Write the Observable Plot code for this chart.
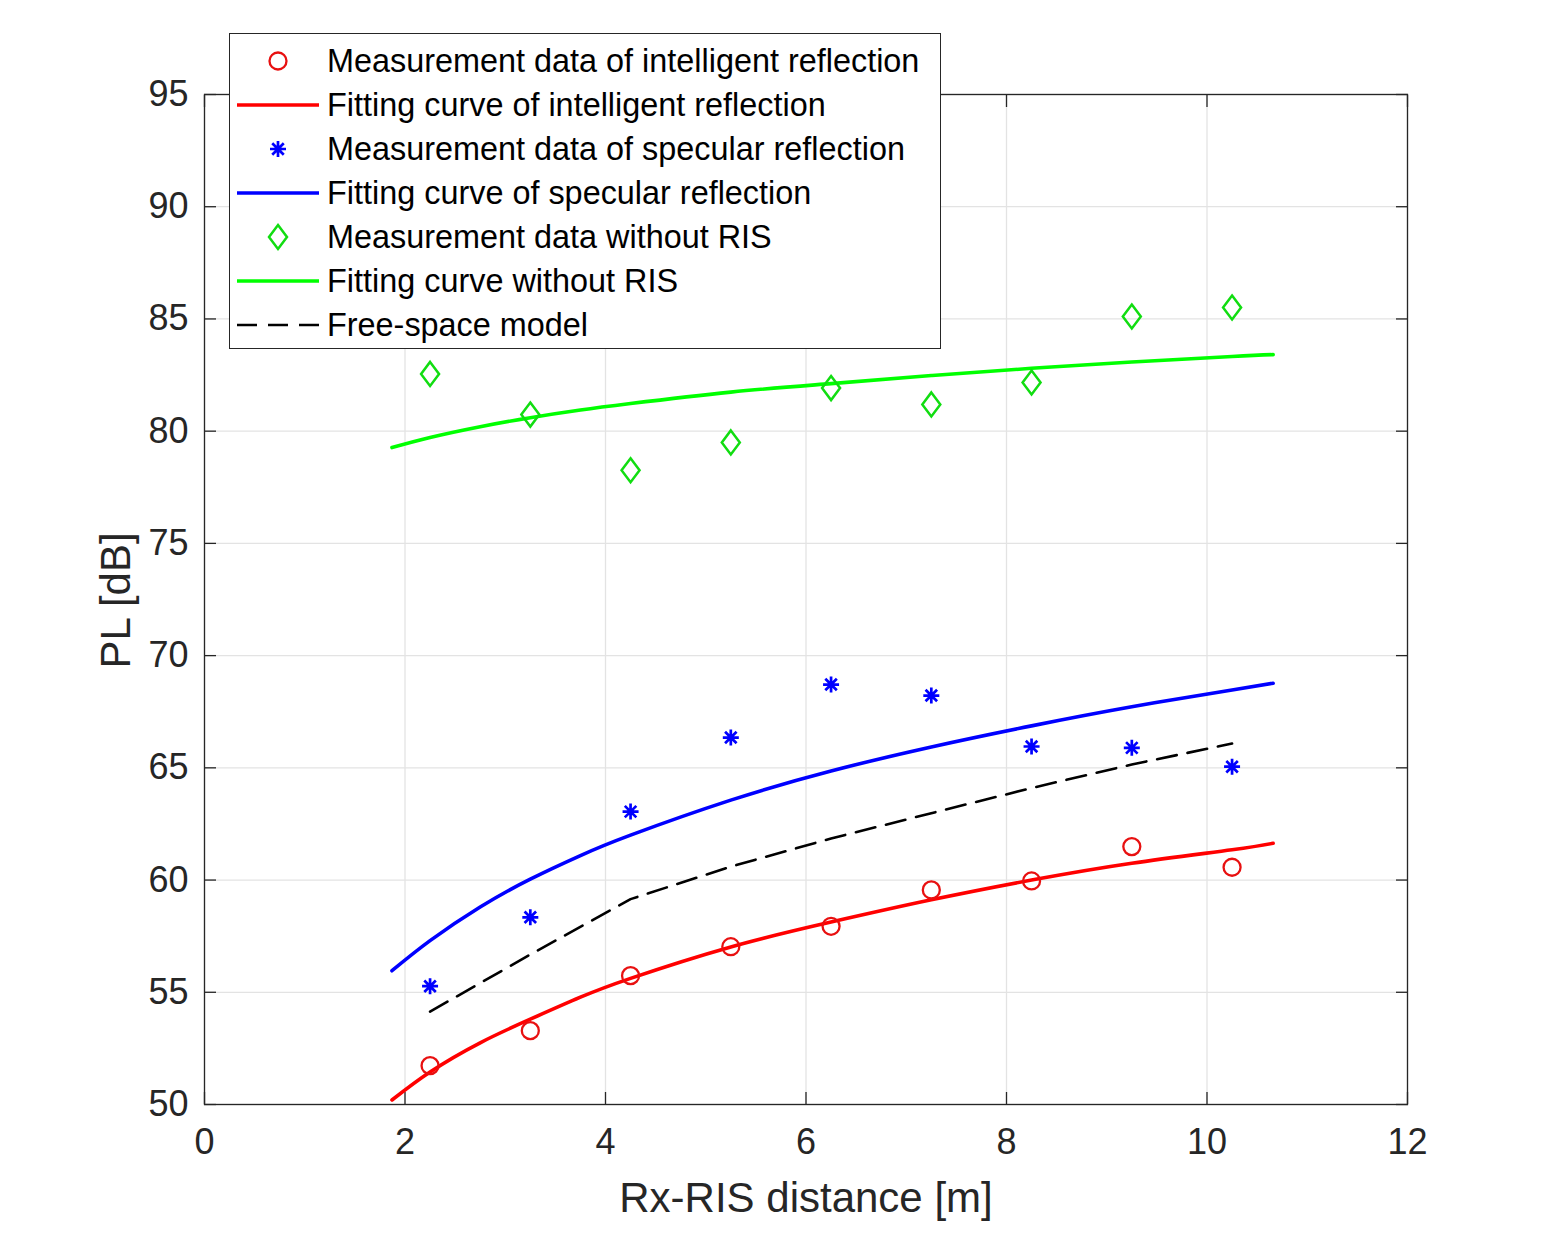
<!DOCTYPE html>
<html><head><meta charset="utf-8">
<script src="https://cdn.jsdelivr.net/npm/d3@7"></script>
<script src="https://cdn.jsdelivr.net/npm/@observablehq/plot@0.6"></script>
<style>
body{margin:0;background:#fff;}
#wrap{position:relative;width:1554px;height:1240px;font-family:"Liberation Sans",Arial,sans-serif;}
#legend{position:absolute;left:229px;top:33px;width:712px;height:316px;border:1.3px solid #262626;background:#fff;box-sizing:border-box;padding-top:5px;}
.row{height:44px;display:flex;align-items:center;}
.row svg{width:97px;height:44px;flex:none;}
.row span{font-size:32.4px;color:#000;white-space:nowrap;}
</style></head>
<body><div id="wrap"><div id="chart"></div><div id="legend"></div></div>
<script>
// Measurement distances (m)
const distances = [2.25, 3.25, 4.25, 5.25, 6.25, 7.25, 8.25, 9.25, 10.25];
const intelligentMeas = [51.73, 53.29, 55.74, 57.03, 57.94, 59.56, 59.96, 61.49, 60.57];
const specularMeas = [55.27, 58.34, 63.05, 66.35, 68.71, 68.22, 65.95, 65.89, 65.05];
const noRisMeas = [82.55, 80.74, 78.26, 79.50, 81.92, 81.19, 82.17, 85.11, 85.51];

// Fitting curves
const fitDistances = [1.87, 2.25, 2.75, 3.25, 3.75, 4.25, 5.25, 6.25, 7.25, 8.25, 9.25, 10.25, 10.66];
const intelligentFit = [50.2, 51.45, 52.75, 53.8, 54.78, 55.62, 57.02, 58.13, 59.12, 60.0, 60.75, 61.35, 61.64];
const specularFit = [55.96, 57.3, 58.8, 60.04, 61.09, 62.0, 63.56, 64.86, 65.93, 66.87, 67.72, 68.47, 68.77];
const noRisFit = [79.27, 79.72, 80.2, 80.6, 80.94, 81.23, 81.74, 82.12, 82.48, 82.8, 83.08, 83.33, 83.41];

// Free-space model
const freeSpace = [54.14, 56.68, 59.15, 60.6, 61.85, 62.98, 64.1, 65.15, 66.08];

const xTicks = [0, 2, 4, 6, 8, 10, 12];
const yTicks = [50, 55, 60, 65, 70, 75, 80, 85, 90, 95];

const pts = (xs, ys) => xs.map((x, i) => ({x, y: ys[i]}));

const diamondSym = {draw(ctx, size) {
  const h = Math.sqrt(size / Math.PI), w = h * 0.75;
  ctx.moveTo(0, -h); ctx.lineTo(w, 0); ctx.lineTo(0, h); ctx.lineTo(-w, 0); ctx.closePath();
}};
const starSym = {draw(ctx, size) {
  const r = Math.sqrt(size / Math.PI), d = r * 0.72;
  ctx.moveTo(0, -r); ctx.lineTo(0, r);
  ctx.moveTo(-r, 0); ctx.lineTo(r, 0);
  ctx.moveTo(-d, -d); ctx.lineTo(d, d);
  ctx.moveTo(-d, d); ctx.lineTo(d, -d);
}};

const RED = "#ff0000", BLUE = "#0000ff", GREEN = "#00ff00", GREENM = "#11dd11";
const GRID = "#e3e3e3", AX = "#262626";

const chart = Plot.plot({
  width: 1554, height: 1240,
  marginLeft: 204, marginRight: 147, marginTop: 94, marginBottom: 136,
  style: {fontFamily: "Liberation Sans, Arial, sans-serif", fontSize: "36px", color: AX, background: "#fff", overflow: "visible"},
  x: {domain: [0, 12]},
  y: {domain: [50, 95]},
  marks: [
    Plot.gridX(xTicks, {stroke: GRID, strokeOpacity: 1, strokeWidth: 1.3}),
    Plot.gridY(yTicks, {stroke: GRID, strokeOpacity: 1, strokeWidth: 1.3}),
    Plot.axisX(xTicks, {anchor: "bottom", tickSize: 0, tickPadding: 24, label: null, fontSize: 36, fill: AX}),
    Plot.axisX(xTicks, {anchor: "bottom", tickSize: -12, fill: "none", label: null, stroke: AX, strokeWidth: 1.3}),
    Plot.axisX(xTicks, {anchor: "top", tickSize: -12, fill: "none", label: null, stroke: AX, strokeWidth: 1.3}),
    Plot.axisY(yTicks, {anchor: "left", tickSize: 0, tickPadding: 16, label: null, fontSize: 36, fill: AX}),
    Plot.axisY(yTicks, {anchor: "left", tickSize: -12, fill: "none", label: null, stroke: AX, strokeWidth: 1.3}),
    Plot.axisY(yTicks, {anchor: "right", tickSize: -12, fill: "none", label: null, stroke: AX, strokeWidth: 1.3}),
    Plot.frame({stroke: AX, strokeWidth: 1.3}),
    Plot.line(pts(fitDistances, noRisFit), {x: "x", y: "y", stroke: GREEN, strokeWidth: 3.6, curve: "natural"}),
    Plot.line(pts(fitDistances, specularFit), {x: "x", y: "y", stroke: BLUE, strokeWidth: 3.6, curve: "natural"}),
    Plot.line(pts(distances, freeSpace), {x: "x", y: "y", stroke: "#000", strokeWidth: 2.6, strokeDasharray: "20,11"}),
    Plot.line(pts(fitDistances, intelligentFit), {x: "x", y: "y", stroke: RED, strokeWidth: 3.6, curve: "natural"}),
    Plot.dot(pts(distances, intelligentMeas), {x: "x", y: "y", r: 8.5, symbol: "circle", stroke: "#e81010", fill: "none", strokeWidth: 2.3}),
    Plot.dot(pts(distances, specularMeas), {x: "x", y: "y", r: 8, symbol: starSym, stroke: BLUE, fill: "none", strokeWidth: 2.7}),
    Plot.dot(pts(distances, noRisMeas), {x: "x", y: "y", r: 12, symbol: diamondSym, stroke: GREENM, fill: "none", strokeWidth: 2.5}),
    Plot.text(["Rx-RIS distance [m]"], {frameAnchor: "bottom", textAnchor: "middle", dy: 107, fontSize: 42, fill: AX}),
    Plot.text(["PL [dB]"], {frameAnchor: "left", textAnchor: "middle", rotate: -90, dx: -88, dy: 1, fontSize: 42, fill: AX})
  ]
});
document.getElementById("chart").appendChild(chart);

// Legend
const legendItems = [
  {label: "Measurement data of intelligent reflection", kind: "circle", color: "#e81010"},
  {label: "Fitting curve of intelligent reflection", kind: "line", color: RED},
  {label: "Measurement data of specular reflection", kind: "star", color: BLUE},
  {label: "Fitting curve of specular reflection", kind: "line", color: BLUE},
  {label: "Measurement data without RIS", kind: "diamond", color: GREENM},
  {label: "Fitting curve without RIS", kind: "line", color: GREEN},
  {label: "Free-space model", kind: "dash", color: "#000"}
];
const leg = d3.select("#legend");
legendItems.forEach(it => {
  const row = leg.append("div").attr("class", "row");
  const svg = row.append("svg").attr("viewBox", "0 0 97 44");
  const cx = 48, cy = 22;
  if (it.kind === "line") {
    svg.append("line").attr("x1", 7).attr("x2", 89).attr("y1", cy).attr("y2", cy).attr("stroke", it.color).attr("stroke-width", 3.6);
  } else if (it.kind === "dash") {
    svg.append("line").attr("x1", 7).attr("x2", 89).attr("y1", cy).attr("y2", cy).attr("stroke", it.color).attr("stroke-width", 2.6).attr("stroke-dasharray", "20,11");
  } else if (it.kind === "circle") {
    svg.append("circle").attr("cx", cx).attr("cy", cy).attr("r", 8.5).attr("fill", "none").attr("stroke", it.color).attr("stroke-width", 2.3);
  } else if (it.kind === "star") {
    const p = d3.path(); starSym.draw(p, 64 * Math.PI);
    svg.append("path").attr("transform", `translate(${cx},${cy})`).attr("d", p.toString()).attr("fill", "none").attr("stroke", it.color).attr("stroke-width", 2.7);
  } else if (it.kind === "diamond") {
    const p = d3.path(); diamondSym.draw(p, 144 * Math.PI);
    svg.append("path").attr("transform", `translate(${cx},${cy})`).attr("d", p.toString()).attr("fill", "none").attr("stroke", it.color).attr("stroke-width", 2.5);
  }
  row.append("span").text(it.label);
});
</script>
</body></html>
